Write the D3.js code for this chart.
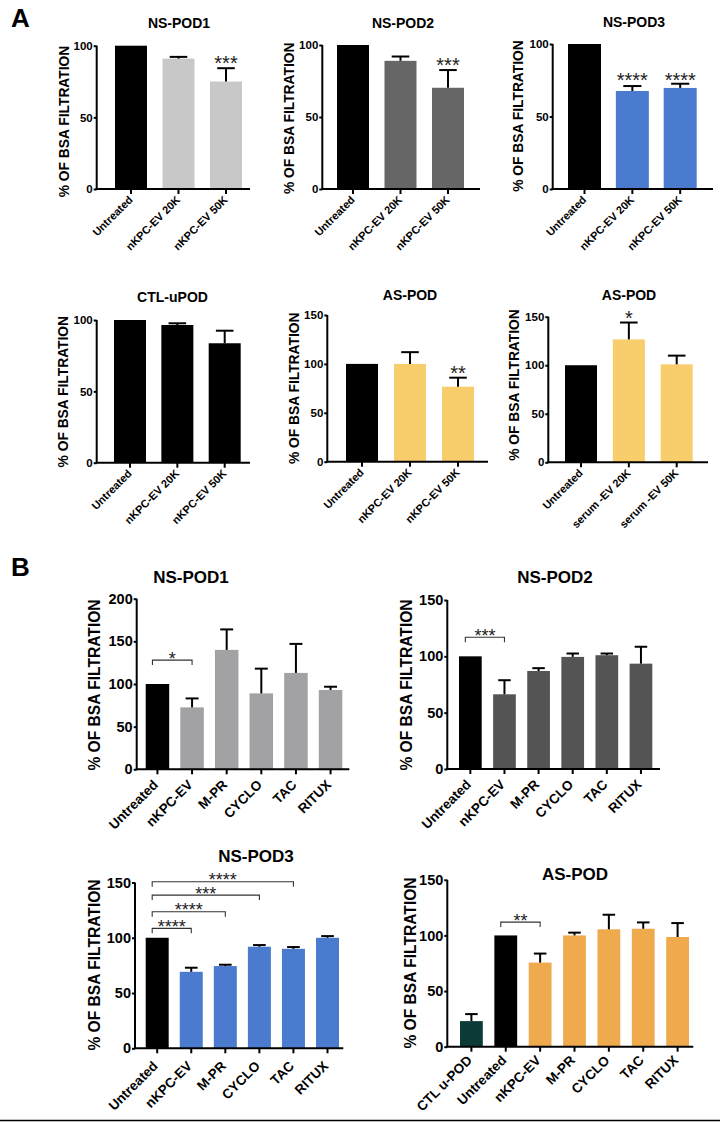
<!DOCTYPE html>
<html><head><meta charset="utf-8">
<script src="https://cdn.jsdelivr.net/npm/d3@7"></script>
<style>body{margin:0;background:#fff}svg{display:block;font-family:"Liberation Sans",Arial,sans-serif}</style>
</head><body>
<svg id="c" width="726" height="1122"></svg>
<script>
// ---------- DATA ----------
const catsA = ["Untreated", "nKPC-EV 20K", "nKPC-EV 50K"];
const catsASerum = ["Untreated", "serum -EV 20K", "serum -EV 50K"];
const catsB = ["Untreated", "nKPC-EV", "M-PR", "CYCLO", "TAC", "RITUX"];
const catsB4 = ["CTL u-POD", "Untreated", "nKPC-EV", "M-PR", "CYCLO", "TAC", "RITUX"];

const ticksA100 = [0, 50, 100];
const ticksA150 = [0, 50, 100, 150];
const ticksB200 = [0, 50, 100, 150, 200];
const ticksB150 = [0, 50, 100, 150];

const a1Mean = [100, 91, 75],     a1Err = [0, 1.2, 9.3],  a1Stars = ["", "", "***"];
const a2Mean = [100, 89, 70.3],   a2Err = [0, 3, 12.3],   a2Stars = ["", "", "***"];
const a3Mean = [100, 67.6, 69.7], a3Err = [0, 3.4, 2.9],  a3Stars = ["", "****", "****"];
const a4Mean = [100, 96.5, 83.7], a4Err = [0, 1.2, 8.8],  a4Stars = ["", "", ""];
const a5Mean = [100, 100, 76.7],  a5Err = [0, 12, 9.2],   a5Stars = ["", "", "**"];
const a6Mean = [100, 126.6, 100.9], a6Err = [0, 17.4, 9], a6Stars = ["", "*", ""];

const b1Mean = [100, 72.6, 140, 89, 113, 93],   b1Err = [0, 10.5, 24, 29, 34, 3.8];
const b2Mean = [100, 66.3, 87, 99.5, 101, 93.5], b2Err = [0, 12.5, 2.5, 3, 1.5, 15];
const b3Mean = [100, 69.2, 74.4, 91.9, 90, 100], b3Err = [0, 3.7, 1.2, 1.5, 1.6, 1.5];
const b4Mean = [23, 100, 75.6, 100, 105.5, 106, 98.6], b4Err = [6.3, 0, 8.1, 2.5, 13.1, 5.7, 12.5];

// significance brackets: [from category, to category, level (y units), label]
const b1Brackets = [["Untreated", "nKPC-EV", 128, "*"]];
const b2Brackets = [["Untreated", "nKPC-EV", 117, "***"]];
const b3Brackets = [["Untreated", "nKPC-EV", 108.5, "****"], ["Untreated", "M-PR", 123.5, "****"],
                    ["Untreated", "CYCLO", 138.6, "***"], ["Untreated", "TAC", 150.7, "****"]];
const b4Brackets = [["Untreated", "nKPC-EV", 112, "**"]];

// ---------- DRAW ----------
const svg = d3.select("#c");
const FONT = '"Liberation Sans", Arial, sans-serif';

function chart(o) {
  const g = svg.append("g");
  const n = o.cats.length;
  const y = d3.scaleLinear().domain([0, o.yMax]).range([o.y0, o.yTop]);
  const step = (o.lastEnd - o.firstStart - o.bw) / (n - 1);
  const pi = 1 - o.bw / step;
  const x = d3.scaleBand().domain(o.cats)
    .range([o.firstStart - (step - o.bw) / 2, o.lastEnd + (step - o.bw) / 2])
    .paddingInner(pi).paddingOuter(pi / 2);
  const data = o.cats.map((c, i) => ({ c, v: o.mean[i], e: o.err[i], col: o.colors[i], s: o.stars ? o.stars[i] : "" }));

  g.selectAll("rect.bar").data(data).join("rect")
    .attr("x", d => x(d.c)).attr("width", x.bandwidth())
    .attr("y", d => y(d.v)).attr("height", d => y(0) - y(d.v))
    .attr("fill", d => d.col);

  const cap = x.bandwidth() * o.capFrac;
  const eb = g.selectAll("g.eb").data(data.filter(d => d.e > 0)).join("g");
  eb.append("line")
    .attr("x1", d => x(d.c) + x.bandwidth() / 2).attr("x2", d => x(d.c) + x.bandwidth() / 2)
    .attr("y1", d => y(d.v)).attr("y2", d => y(d.v + d.e))
    .attr("stroke", "#000").attr("stroke-width", o.ebw);
  eb.append("line")
    .attr("x1", d => x(d.c) + x.bandwidth() / 2 - cap / 2).attr("x2", d => x(d.c) + x.bandwidth() / 2 + cap / 2)
    .attr("y1", d => y(d.v + d.e)).attr("y2", d => y(d.v + d.e))
    .attr("stroke", "#000").attr("stroke-width", o.ebw);

  g.selectAll("text.star").data(data.filter(d => d.s)).join("text")
    .attr("x", d => x(d.c) + x.bandwidth() / 2)
    .attr("y", d => (o.starLevel != null ? y(o.starLevel) : y(d.v + d.e)) + o.starDy)
    .attr("text-anchor", "middle").attr("font-size", o.starSize).attr("fill", "#222")
    .attr("font-family", FONT).text(d => d.s);

  (o.brackets || []).forEach(b => {
    const x1 = x(b[0]) + x.bandwidth() / 2 - o.brOff, x2 = x(b[1]) + x.bandwidth() / 2;
    const ly = y(b[2]);
    g.append("path").attr("d", `M${x1},${ly + 5}V${ly}H${x2}V${ly + 5}`)
      .attr("fill", "none").attr("stroke", "#333").attr("stroke-width", 1.1);
    g.append("text").attr("x", (x1 + x2) / 2).attr("y", ly + 4.5)
      .attr("text-anchor", "middle").attr("font-size", o.starSize).attr("fill", "#222")
      .attr("font-family", FONT).text(b[3]);
  });

  const ya = g.append("g").attr("transform", `translate(${o.axisX},0)`)
    .call(d3.axisLeft(y).tickValues(o.ticks).tickSize(o.tickLen).tickSizeOuter(0).tickPadding(o.yPad));
  ya.select(".domain").attr("stroke-width", o.axw).attr("d", `M0,${o.y0}V${y(o.yMax)}`);
  ya.selectAll(".tick line").attr("stroke-width", o.axw);
  ya.selectAll("text").attr("font-size", o.yTickSize).attr("font-weight", "bold")
    .attr("font-family", FONT).attr("fill", "#000");

  const xa = g.append("g").attr("transform", `translate(0,${o.y0})`)
    .call(d3.axisBottom(x).tickSize(o.xTickLen).tickSizeOuter(0));
  xa.select(".domain").remove();
  xa.selectAll(".tick line").attr("stroke-width", o.axw);
  xa.selectAll("text")
    .attr("font-size", o.xLabSize).attr("font-weight", "bold").attr("font-family", FONT).attr("fill", "#000")
    .attr("text-anchor", "end").attr("dy", null).attr("y", null)
    .attr("transform", `translate(${o.xLabDx},${o.xLabDy}) rotate(-45)`);
  g.append("line").attr("x1", o.axisX - o.axw / 2).attr("x2", o.xEnd).attr("y1", o.y0).attr("y2", o.y0)
    .attr("stroke", "#000").attr("stroke-width", o.axw);

  g.append("text").attr("transform", `translate(${o.ylabX},${o.ylabY}) rotate(-90)`)
    .attr("text-anchor", "middle").attr("font-size", o.ylabSize).attr("font-weight", "bold")
    .attr("font-family", FONT).text("% OF BSA FILTRATION");

  g.append("text").attr("x", o.titleX).attr("y", o.titleY).attr("text-anchor", "middle")
    .attr("font-size", o.titleSize).attr("font-weight", "bold").attr("font-family", FONT).text(o.title);
}

const A = { bw: 32, capFrac: 0.55, ebw: 2, axw: 2, tickLen: 3, yPad: 1, xTickLen: 5, yTickSize: 11.5,
  xLabSize: 11, xLabDx: 2.5, xLabDy: 11.5, ylabSize: 13.8, titleSize: 14, starSize: 20, starDy: 2 };
const B = { capFrac: 0.55, ebw: 2, axw: 2, tickLen: 3, yPad: 1, xTickLen: 5, yTickSize: 14.5,
  xLabSize: 13.5, xLabDx: 1.5, xLabDy: 16.3, ylabSize: 15.6, titleSize: 17, starSize: 18, starDy: 2, brOff: 5 };

const black = "#000", gl = "#c8c8c8", gd = "#666666", blue = "#4a7bcf", yel = "#f8cd6c",
      gB1 = "#a2a2a4", gB2 = "#545454", org = "#eeaa4c", teal = "#0c3b37";

chart({ ...A, cats: catsA, mean: a1Mean, err: a1Err, stars: a1Stars, colors: [black, gl, gl],
  axisX: 96.7, xEnd: 250, y0: 189, yTop: 45.7, yMax: 100, ticks: ticksA100, firstStart: 115, lastEnd: 242,
  title: "NS-POD1", titleX: 179, titleY: 28, ylabX: 69, ylabY: 121.5 });
chart({ ...A, cats: catsA, mean: a2Mean, err: a2Err, stars: a2Stars, colors: [black, gd, gd],
  axisX: 322.3, xEnd: 480, y0: 189, yTop: 45, yMax: 100, ticks: ticksA100, firstStart: 337, lastEnd: 464,
  title: "NS-POD2", titleX: 403, titleY: 28, ylabX: 294, ylabY: 118.3 });
chart({ ...A, bw: 33, cats: catsA, mean: a3Mean, err: a3Err, stars: a3Stars, colors: [black, blue, blue],
  starLevel: 72, axisX: 552.7, xEnd: 713, y0: 189, yTop: 44, yMax: 100, ticks: ticksA100, firstStart: 568, lastEnd: 696.7,
  title: "NS-POD3", titleX: 634, titleY: 27, ylabX: 522.5, ylabY: 116 });
chart({ ...A, cats: catsA, mean: a4Mean, err: a4Err, stars: a4Stars, colors: [black, black, black],
  axisX: 96.7, xEnd: 250, y0: 462.7, yTop: 320, yMax: 100, ticks: ticksA100, firstStart: 114, lastEnd: 240.7,
  title: "CTL-uPOD", titleX: 172.5, titleY: 302, ylabX: 67.5, ylabY: 391.7 });
chart({ ...A, cats: catsA, mean: a5Mean, err: a5Err, stars: a5Stars, colors: [black, yel, yel],
  axisX: 327.3, xEnd: 488, y0: 461.7, yTop: 315, yMax: 150, ticks: ticksA150, firstStart: 346, lastEnd: 474,
  title: "AS-POD", titleX: 410, titleY: 300, ylabX: 299, ylabY: 388.3 });
chart({ ...A, cats: catsASerum, mean: a6Mean, err: a6Err, stars: a6Stars, colors: [black, yel, yel],
  axisX: 548.3, xEnd: 708, y0: 462.3, yTop: 316.7, yMax: 150, ticks: ticksA150, firstStart: 565, lastEnd: 692.7,
  title: "AS-POD", titleX: 629, titleY: 300, ylabX: 519, ylabY: 385 });

chart({ ...B, bw: 23.5, cats: catsB, mean: b1Mean, err: b1Err, colors: [black, gB1, gB1, gB1, gB1, gB1], brackets: b1Brackets,
  axisX: 136.7, xEnd: 349.3, y0: 769.3, yTop: 598.7, yMax: 200, ticks: ticksB200, firstStart: 145.7, lastEnd: 342.3,
  title: "NS-POD1", titleX: 191, titleY: 583, ylabX: 100, ylabY: 685 });
chart({ ...B, bw: 22.7, cats: catsB, mean: b2Mean, err: b2Err, colors: [black, gB2, gB2, gB2, gB2, gB2], brackets: b2Brackets,
  axisX: 447.3, xEnd: 660, y0: 769, yTop: 600, yMax: 150, ticks: ticksB150, firstStart: 459, lastEnd: 652.3,
  title: "NS-POD2", titleX: 555, titleY: 583, ylabX: 412, ylabY: 685 });
chart({ ...B, bw: 23, xLabDy: 18.5, cats: catsB, mean: b3Mean, err: b3Err, colors: [black, blue, blue, blue, blue, blue], brackets: b3Brackets,
  axisX: 135, xEnd: 343.3, y0: 1048.3, yTop: 882.5, yMax: 150, ticks: ticksB150, firstStart: 145.7, lastEnd: 339,
  title: "NS-POD3", titleX: 256, titleY: 862, ylabX: 100, ylabY: 965 });
chart({ ...B, bw: 22.8, xLabDy: 14.5, cats: catsB4, mean: b4Mean, err: b4Err, colors: [teal, black, org, org, org, org, org], brackets: b4Brackets,
  axisX: 447.3, xEnd: 693.3, y0: 1046.7, yTop: 879.8, yMax: 150, ticks: ticksB150, firstStart: 460, lastEnd: 689,
  title: "AS-POD", titleX: 575, titleY: 880, ylabX: 416, ylabY: 963 });

svg.append("text").attr("x", 11).attr("y", 27).attr("font-size", 26).attr("font-weight", "bold").attr("font-family", FONT).text("A");
svg.append("text").attr("x", 11).attr("y", 576).attr("font-size", 26).attr("font-weight", "bold").attr("font-family", FONT).text("B");
svg.append("line").attr("x1", 0).attr("x2", 720).attr("y1", 1120.5).attr("y2", 1120.5).attr("stroke", "#000").attr("stroke-width", 1.5);
</script>
</body></html>
